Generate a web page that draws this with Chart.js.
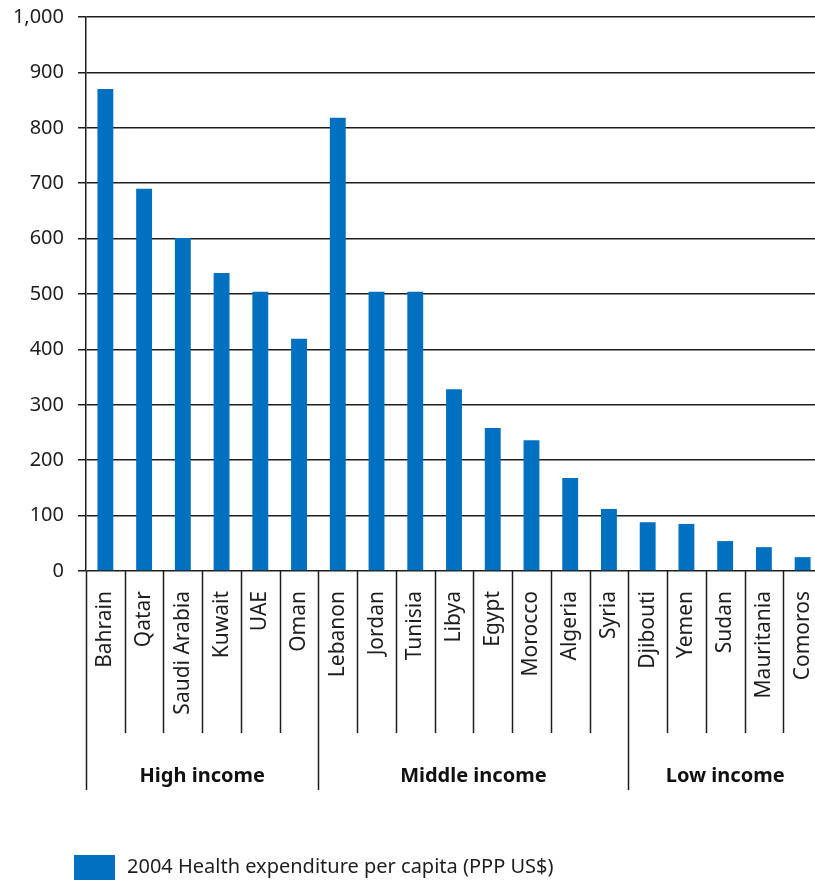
<!DOCTYPE html>
<html>
<head>
<meta charset="utf-8">
<script src="https://cdn.jsdelivr.net/npm/chart.js@4/dist/chart.umd.min.js"></script>
<style>
  body { margin: 0; background: #fff; overflow: hidden; }
  #wrap { width: 815px; height: 882px; overflow: hidden; }
</style>
</head>
<body>
<div id="wrap"><canvas id="myChart" width="825" height="882"></canvas></div>
<script>
// data
var countries = ["Bahrain", "Qatar", "Saudi Arabia", "Kuwait", "UAE", "Oman",
  "Lebanon", "Jordan", "Tunisia", "Libya", "Egypt", "Morocco", "Algeria", "Syria",
  "Djibouti", "Yemen", "Sudan", "Mauritania", "Comoros"];
var spending = [870, 690, 601, 538, 504, 419,
  818, 504, 504, 328, 258, 236, 168, 112,
  88, 85, 54, 43, 25];
var groupNames = ["High income", "Middle income", "Low income"];
var groupSizes = [6, 8, 5];
var seriesLabel = "2004 Health expenditure per capita (PPP US$)";

var blue = "rgb(0,112,192)";
var ink = "#1e1e1e";

// separators under the axis, income groups and the legend
var groupPlugin = {
  id: "groups",
  afterDraw: function (chart) {
    var ctx = chart.ctx;
    var x = chart.scales.x;
    var area = chart.chartArea;
    var n = countries.length;
    var edge = function (i) {
      if (i <= 0) return area.left;
      if (i >= n) return area.right;
      return (x.getPixelForValue(i - 1) + x.getPixelForValue(i)) / 2;
    };
    var bounds = [0];
    var acc = 0;
    for (var g = 0; g < groupSizes.length; g++) { acc += groupSizes[g]; bounds.push(acc); }

    ctx.save();
    ctx.strokeStyle = ink;
    ctx.lineWidth = 1.5;
    for (var i = 0; i < n; i++) {
      var big = bounds.indexOf(i) >= 0;
      var px = Math.round(edge(i)) + 0.5;
      ctx.beginPath();
      ctx.moveTo(px, area.bottom);
      ctx.lineTo(px, big ? 790 : 733);
      ctx.stroke();
    }

    ctx.fillStyle = "#111";
    ctx.font = "bold 20px 'Noto Sans'";
    ctx.textAlign = "center";
    ctx.textBaseline = "middle";
    for (var g = 0; g < groupNames.length; g++) {
      var cx = (edge(bounds[g]) + edge(bounds[g + 1])) / 2;
      ctx.fillText(groupNames[g], cx, 776);
    }

    // legend
    var ds = chart.data.datasets[0];
    ctx.fillStyle = ds.backgroundColor;
    ctx.fillRect(74, 855, 41, 25);
    ctx.fillStyle = ink;
    ctx.font = "20px 'Noto Sans'";
    ctx.textAlign = "left";
    ctx.fillText(ds.label, 127, 867);
    ctx.restore();
  }
};

var ctx = document.getElementById("myChart").getContext("2d");
var chart = new Chart(ctx, {
  type: "bar",
  data: {
    labels: countries,
    datasets: [{
      label: seriesLabel,
      data: spending,
      backgroundColor: blue,
      borderWidth: 0,
      categoryPercentage: 1,
      barPercentage: 0.41
    }]
  },
  options: {
    responsive: false,
    animation: false,
    devicePixelRatio: 1,
    layout: { padding: { top: 17, right: 3, bottom: 0, left: 0 } },
    plugins: {
      legend: { display: false },
      tooltip: { enabled: false }
    },
    scales: {
      x: {
        grid: { display: false },
        border: { display: false },
        ticks: {
          autoSkip: false,
          minRotation: 90,
          maxRotation: 90,
          padding: 12,
          color: ink,
          font: { family: "'Noto Sans'", size: 21 }
        },
        afterFit: function (s) {
          s.height = 311;
          s.paddingLeft = 0;
          s.paddingRight = 0;
        }
      },
      y: {
        min: 0,
        max: 1000,
        ticks: {
          stepSize: 100,
          padding: 14,
          color: ink,
          font: { family: "'Noto Sans'", size: 20 }
        },
        grid: { color: ink, lineWidth: 1.5, tickLength: 8 },
        border: { color: ink, width: 1.5 },
        afterFit: function (s) {
          s.width = 86;
          s.paddingTop = 0;
          s.paddingBottom = 0;
        }
      }
    }
  },
  plugins: [groupPlugin]
});
</script>
</body>
</html>
